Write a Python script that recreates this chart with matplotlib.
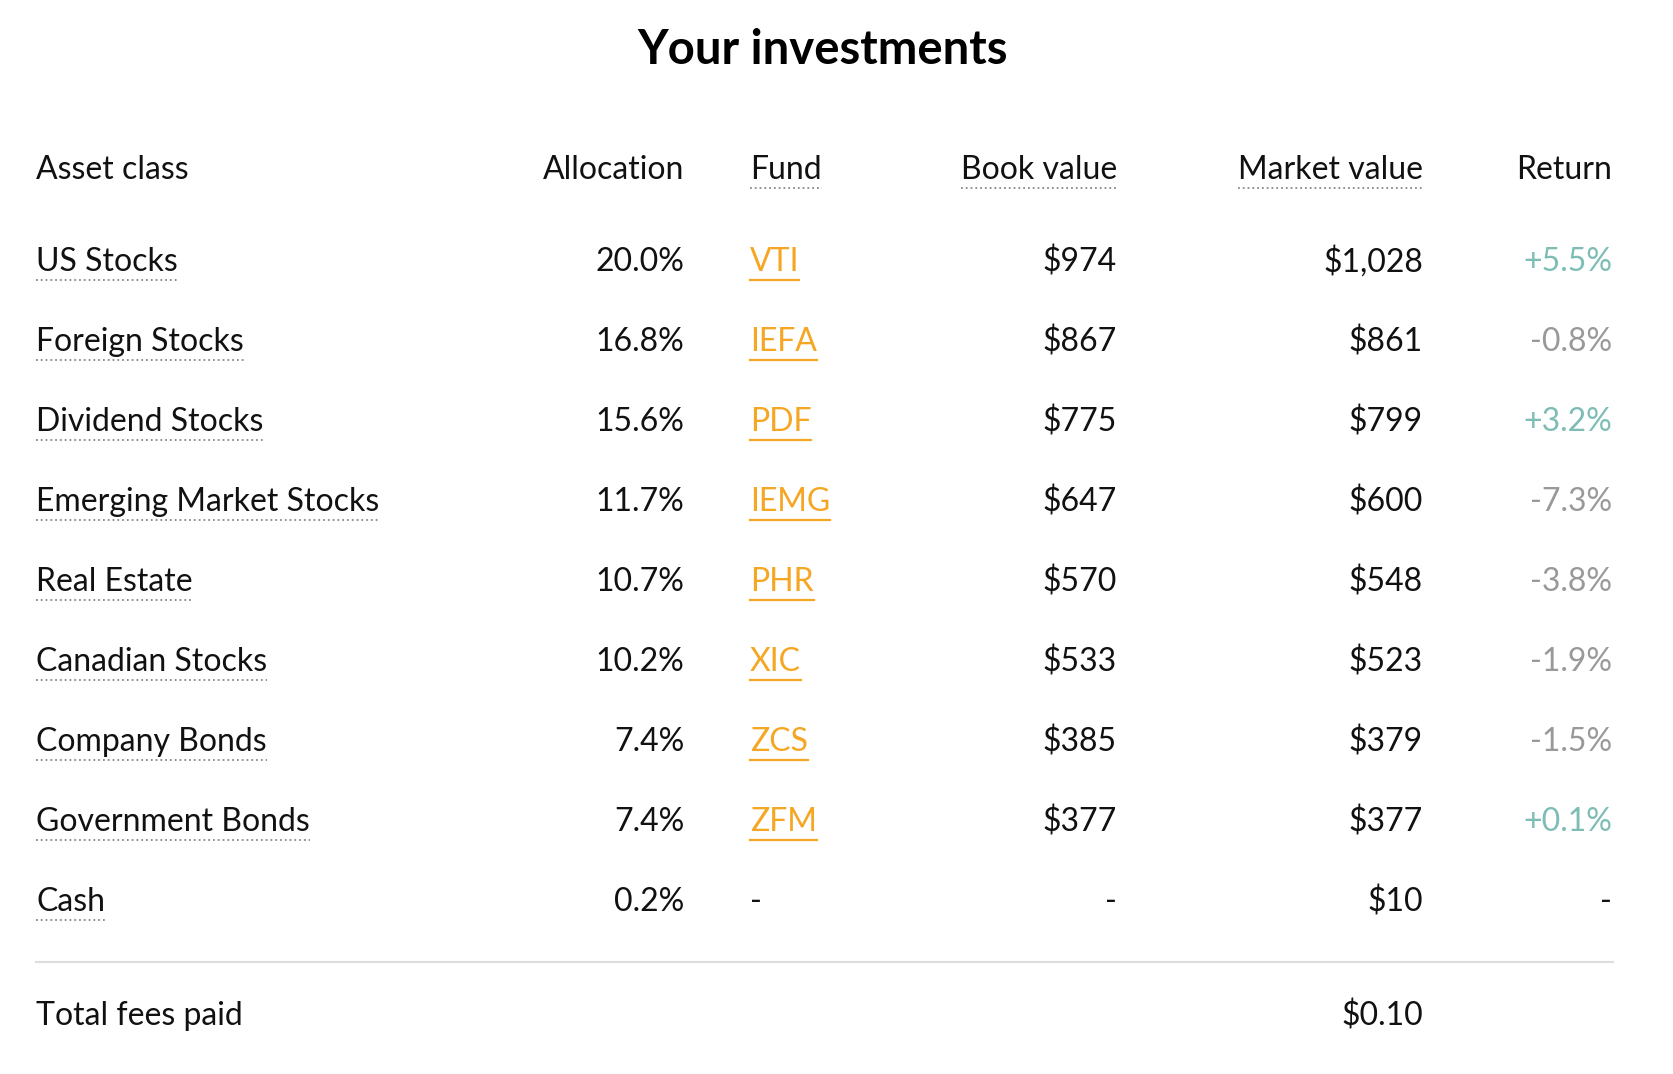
import matplotlib
matplotlib.use("Agg")
import matplotlib.pyplot as plt
from matplotlib.lines import Line2D

assets = ["US Stocks", "Foreign Stocks", "Dividend Stocks", "Emerging Market Stocks",
          "Real Estate", "Canadian Stocks", "Company Bonds", "Government Bonds", "Cash"]
allocation = ["20.0%", "16.8%", "15.6%", "11.7%", "10.7%", "10.2%", "7.4%", "7.4%", "0.2%"]
funds = ["VTI", "IEFA", "PDF", "IEMG", "PHR", "XIC", "ZCS", "ZFM", "-"]
book = ["$974", "$867", "$775", "$647", "$570", "$533", "$385", "$377", "-"]
market = ["$1,028", "$861", "$799", "$600", "$548", "$523", "$379", "$377", "$10"]
returns = ["+5.5%", "-0.8%", "+3.2%", "-7.3%", "-3.8%", "-1.9%", "-1.5%", "+0.1%", "-"]
headers = ["Asset class", "Allocation", "Fund", "Book value", "Market value", "Return"]
total_label, total_value = "Total fees paid", "$0.10"

W, H = 1674, 1074
fig = plt.figure(figsize=(W/100, H/100), dpi=100)
FONT = "Lato"
FS = 23
tx = lambda x: x / W
ty = lambda y: 1 - y / H

cols = [(36, "left"), (684, "right"), (750, "left"), (1117, "right"), (1423, "right"), (1612, "right")]
underline = []  # (text, style, color)

fig.text(tx(823), ty(50), "Your investments", ha="center", va="center",
         fontsize=34, fontweight="bold", family=FONT, color="black")

for i, h in enumerate(headers):
    x, ha = cols[i]
    t = fig.text(tx(x), ty(170), h, ha=ha, va="center", fontsize=FS, family=FONT, color="#111")
    if h in ("Fund", "Book value", "Market value"):
        underline.append((t, ":", "#888"))

for r in range(len(assets)):
    y = 262 + 80 * r
    ret = returns[r]
    rc = "#7dbdb5" if ret.startswith("+") else ("#999999" if ret != "-" else "#111")
    vals = [assets[r], allocation[r], funds[r], book[r], market[r], ret]
    colors = ["#111", "#111", "#f5a623" if funds[r] != "-" else "#111", "#111", "#111", rc]
    for i, v in enumerate(vals):
        x, ha = cols[i]
        t = fig.text(tx(x), ty(y), v, ha=ha, va="center", fontsize=FS, family=FONT, color=colors[i])
        if i == 0:
            underline.append((t, ":", "#888"))
        if i == 2 and v != "-":
            underline.append((t, "-", "#f5a623"))

fig.add_artist(Line2D([tx(36), tx(1613)], [ty(962), ty(962)], color="#dddddd", lw=1.5))
fig.text(tx(36), ty(1016), total_label, ha="left", va="center", fontsize=FS, family=FONT, color="#111")
fig.text(tx(1423), ty(1016), total_value, ha="right", va="center", fontsize=FS, family=FONT, color="#111")

fig.canvas.draw()
r = fig.canvas.get_renderer()
for t, ls, c in underline:
    bb = t.get_window_extent(r)
    yb = bb.y0 - 3
    fig.add_artist(Line2D([bb.x0 / W, bb.x1 / W], [yb / H, yb / H], color=c,
                          lw=1.3 if ls == ":" else 1.6, linestyle=ls))

fig.savefig("out.png", dpi=100)
